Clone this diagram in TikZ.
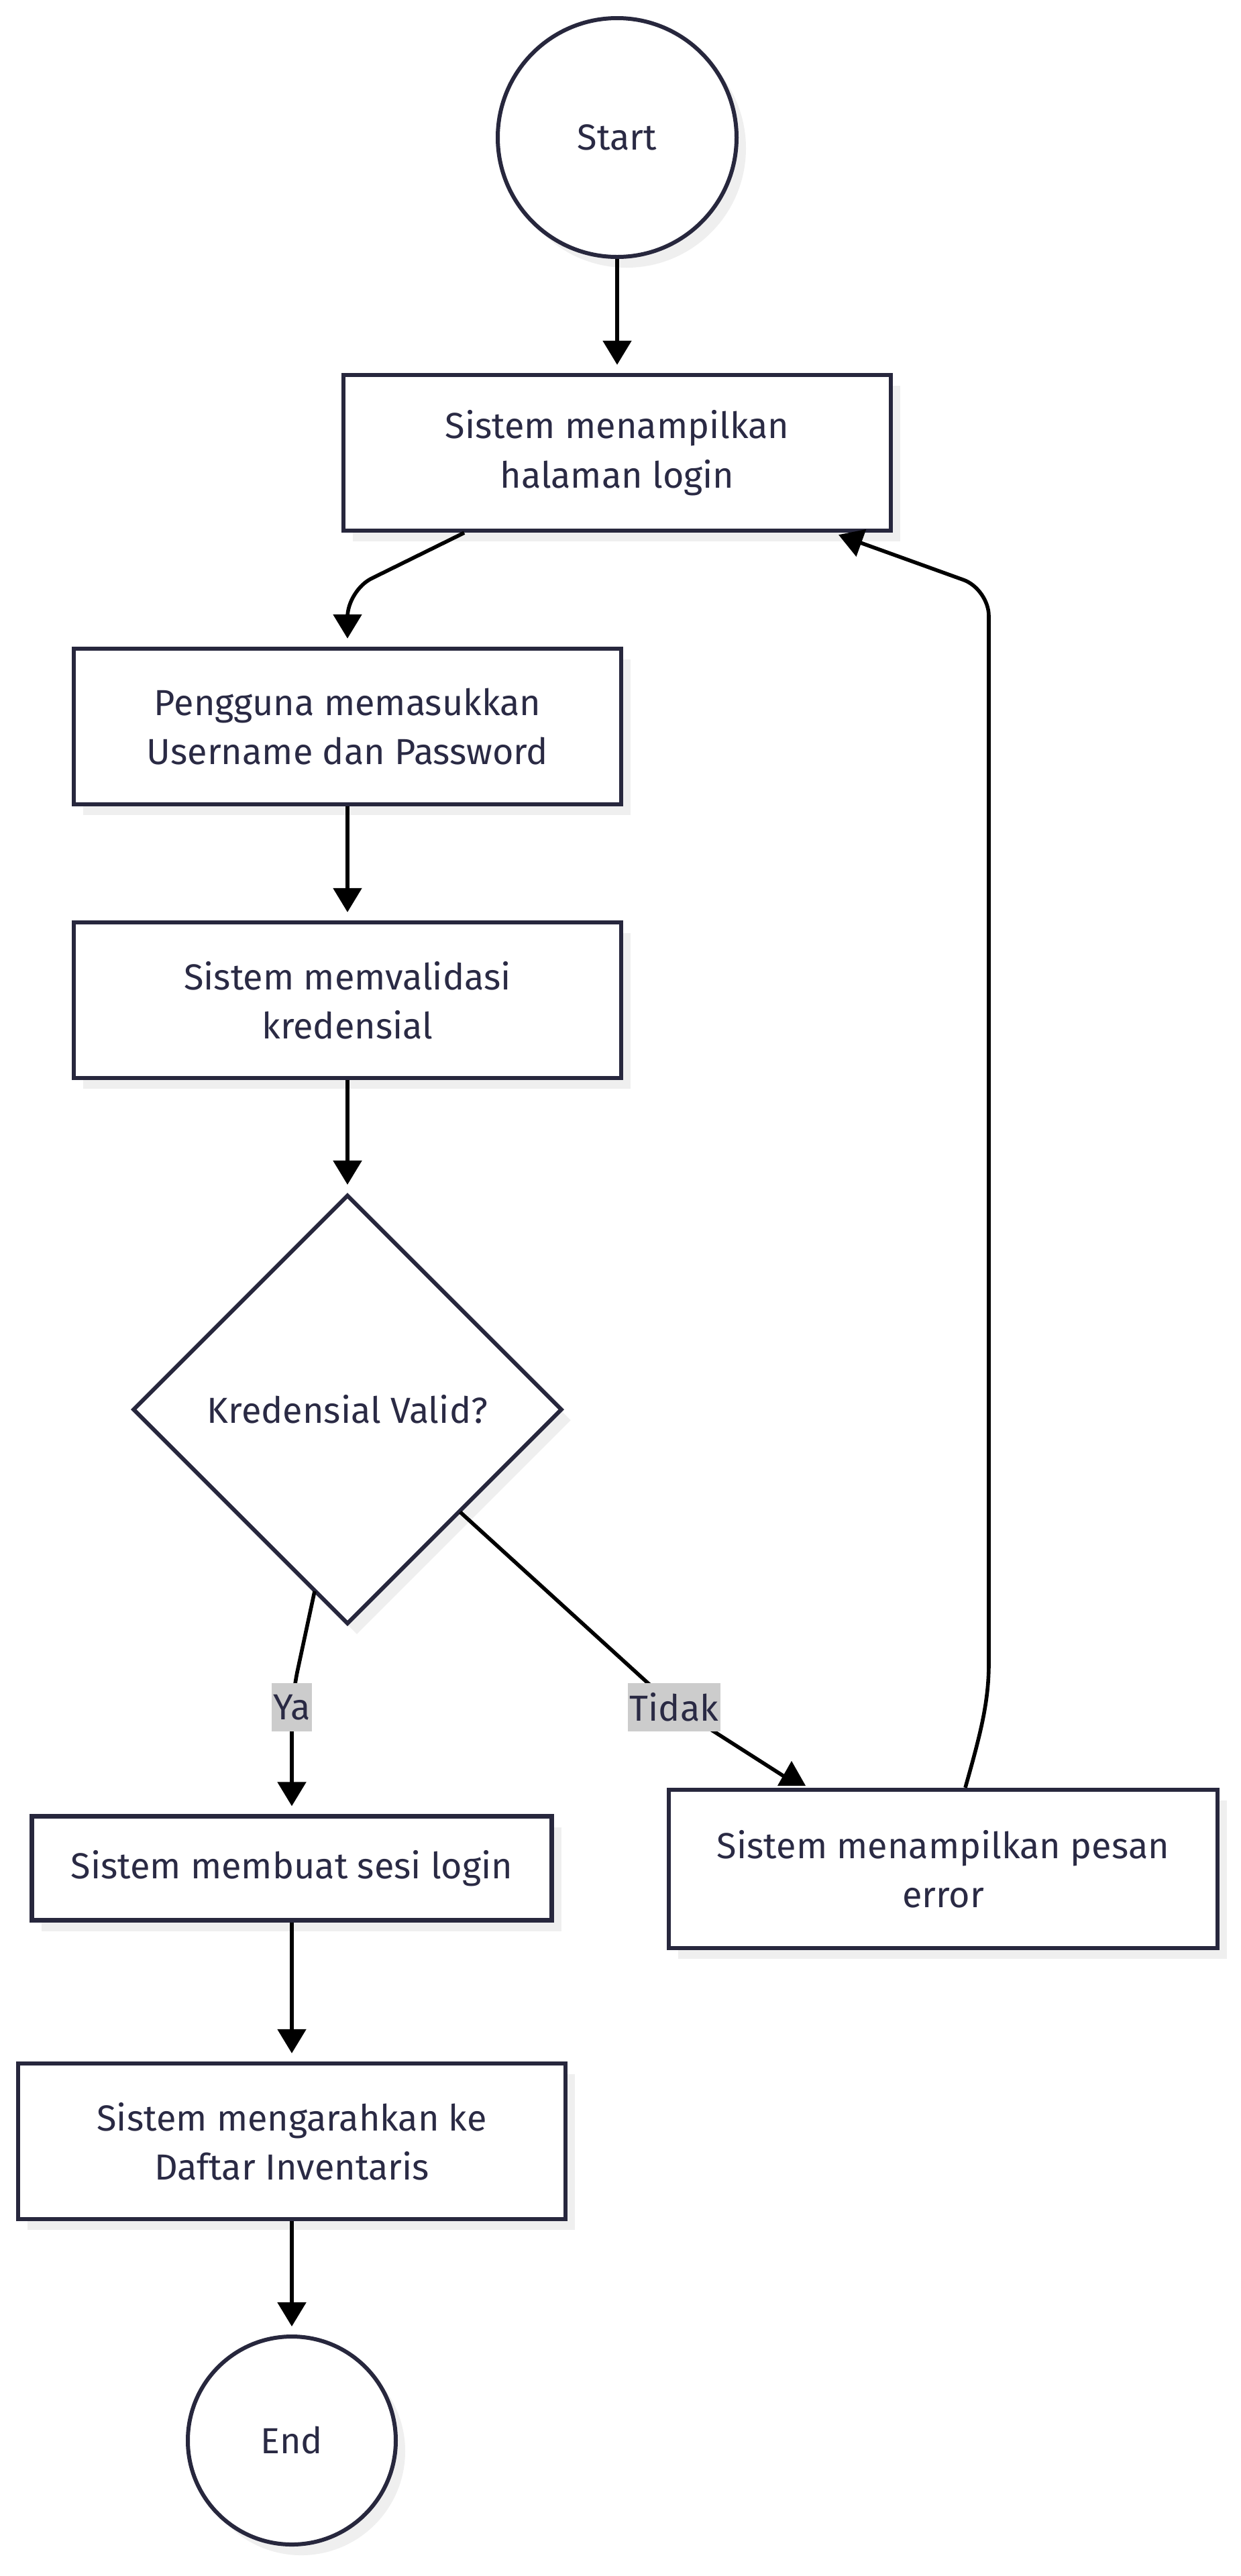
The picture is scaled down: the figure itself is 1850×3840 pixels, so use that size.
\documentclass[tikz,border=0pt]{standalone}
\usepackage{fontspec}
\setmainfont{Fira Sans}
\usetikzlibrary{arrows.meta,shapes.geometric,calc,shadows}
\definecolor{strokec}{HTML}{27273D}
\definecolor{txtc}{HTML}{2A2A44}
\definecolor{shadowc}{HTML}{EFEFEF}
\definecolor{lblbg}{HTML}{CCCCCC}
\begin{document}
\begin{tikzpicture}[x=0.5pt,y=-0.5pt,
  every node/.style={text=txtc, font=\fontsize{27}{36.75}\selectfont},
  nodeshadow/.style={drop shadow={shadow xshift=7pt, shadow yshift=-8pt, fill=shadowc, opacity=1}},
  procbox/.style={draw=strokec, line width=3.2pt, fill=white, rectangle, minimum width=408pt, minimum height=116pt, align=center, inner sep=0pt, nodeshadow},
  termcircle/.style={draw=strokec, line width=3pt, fill=white, circle, inner sep=0pt, nodeshadow},
  decision/.style={draw=strokec, line width=3pt, fill=white, diamond, aspect=1, minimum width=320pt, minimum height=320pt, inner sep=0pt, nodeshadow},
  link/.style={draw=black, line width=2.8pt},
  flow/.style={link, -{Triangle[length=18pt,width=21pt]}, shorten >=6pt},
  edgelabel/.style={fill=lblbg, inner xsep=1.5pt, inner ysep=0pt, minimum height=36pt, text=txtc}
]
\useasboundingbox (0,0) rectangle (1850,3840);
\fill[white] (0,0) rectangle (1850,3840);

% nodes
\node[termcircle, minimum size=178pt] (start) at (920,205) {Start};
\node[procbox] (b1) at (920,675) {Sistem menampilkan\\halaman login};
\node[procbox] (b2) at (518,1083) {Pengguna memasukkan\\Username dan Password};
\node[procbox] (b3) at (518,1491) {Sistem memvalidasi\\kredensial};
\node[decision] (dec) at (518,2101) {Kredensial Valid?};
\node[procbox, minimum width=387.5pt, minimum height=77.5pt] (b4) at (435,2785) {Sistem membuat sesi login};
\node[procbox] (b5) at (435,3192) {Sistem mengarahkan ke\\Daftar Inventaris};
\node[procbox, minimum width=409pt, minimum height=118pt] (err) at (1406,2786) {Sistem menampilkan pesan\\error};
\node[termcircle, minimum size=155pt] (end) at (435,3638) {End};

% waypoints
\coordinate (w1) at (518,880);
\coordinate (yaS) at (469,2372);
\coordinate (yaB) at (435,2530);
\coordinate (tdS) at (686,2254);
\coordinate (tdB) at (1000,2540);
\coordinate (tdE) at (1172,2650);
\coordinate (lpS) at ($(err.north)+(33,0)$);
\coordinate (lpA) at (1474,2440);
\coordinate (lpB) at (1474,878);
\coordinate (lpE) at ($(b1.south)+(330,3)$);

% connectors
\draw[flow] (start.south) -- (b1.north);
\draw[flow, rounded corners=20pt] ($(b1.south)+(-228,0)$) -- (w1) -- (b2.north);
\draw[flow] (b2.south) -- (b3.north);
\draw[flow] (b3.south) -- (dec.north);
\draw[flow, rounded corners=20pt] (yaS) -- (yaB) -- (b4.north);
\draw[link, rounded corners=20pt] (tdS) -- (tdB) -- (tdE);
\fill[black] (1180,2625) -- (1159,2662) -- (1201,2662) -- cycle;
\draw[flow] (b4.south) -- (b5.north);
\draw[flow] (b5.south) -- (end.north);
\draw[flow, shorten >=0pt, rounded corners=20pt] (lpS) .. controls (1460,2590) and (1474,2540) .. (lpA) -- (lpB) -- (lpE);

% edge labels
\node[edgelabel] (ya) at (435,2545) {Ya};
\node[edgelabel] (tidak) at (1005,2545) {Tidak};
\end{tikzpicture}
\end{document}
